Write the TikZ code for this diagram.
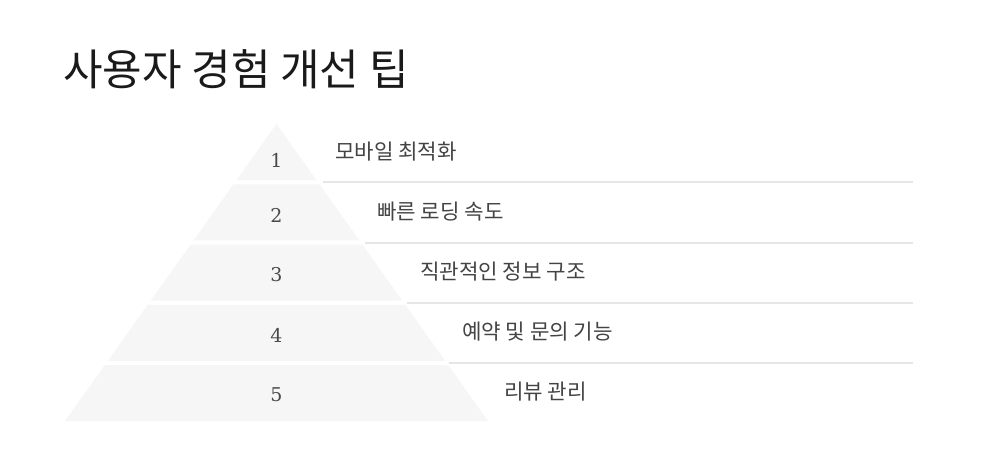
\documentclass[tikz,border=0pt]{standalone}
\usepackage{fontspec}
\setmainfont{Noto Sans CJK KR}
\newfontfamily\numfont{DejaVu Serif}
\definecolor{layerfill}{HTML}{F7F6F6}
\definecolor{rulegray}{HTML}{E6E6E6}
\definecolor{txtgray}{HTML}{444444}
\definecolor{numgray}{HTML}{4A4A4A}
\definecolor{titlecol}{HTML}{1A1A1A}
\tikzset{
  layer/.style={fill=layerfill, draw=none},
  sepline/.style={draw=rulegray, line width=2pt},
  numlabel/.style={inner sep=0pt, text=numgray, font=\numfont\fontsize{19}{19}\selectfont},
  tiplabel/.style={inner sep=0pt, anchor=west, text=txtgray, font=\fontsize{21.2}{21.2}\selectfont},
  titlelabel/.style={inner sep=0pt, anchor=west, text=titlecol, font=\fontsize{43}{43}\selectfont}
}
\begin{document}
\begin{tikzpicture}[x=1pt,y=-1pt]
\useasboundingbox[fill=white] (0,0) rectangle (981,464);
% pyramid geometry: apex (276.5,124), slope 0.712 px/px
\def\cx{276.5}
\def\sl{0.712}
\foreach \t/\b in {124/180, 184.25/240.25, 244.5/300.5, 304.75/360.75, 365/421}{
  \fill[layer] ({\cx-\sl*(\t-124)},\t) -- ({\cx+\sl*(\t-124)},\t) -- ({\cx+\sl*(\b-124)},\b) -- ({\cx-\sl*(\b-124)},\b) -- cycle;
}
% separator lines
\coordinate (l1a) at (323,182.2);
\coordinate (l1b) at (913,182.2);
\coordinate (l2a) at (365,242.5);
\coordinate (l2b) at (913,242.5);
\coordinate (l3a) at (407,302.7);
\coordinate (l3b) at (913,302.7);
\coordinate (l4a) at (449,362.9);
\coordinate (l4b) at (913,362.9);
\draw[sepline] (l1a) -- (l1b);
\draw[sepline] (l2a) -- (l2b);
\draw[sepline] (l3a) -- (l3b);
\draw[sepline] (l4a) -- (l4b);
% numbers
\node[numlabel] (n1) at (\cx,160.5) {1};
\node[numlabel] (n2) at (\cx,215) {2};
\node[numlabel] (n3) at (\cx,275) {3};
\node[numlabel] (n4) at (\cx,335) {4};
\node[numlabel] (n5) at (\cx,395) {5};
% tip texts
\node[tiplabel] (t1) at (335,152) {모바일 최적화};
\node[tiplabel] (t2) at (377,212) {빠른 로딩 속도};
\node[tiplabel] (t3) at (420,272) {직관적인 정보 구조};
\node[tiplabel] (t4) at (462,332) {예약 및 문의 기능};
\node[tiplabel] (t5) at (504,392) {리뷰 관리};
% title
\node[titlelabel] (title) at (63,69) {사용자 경험 개선 팁};
\end{tikzpicture}
\end{document}
